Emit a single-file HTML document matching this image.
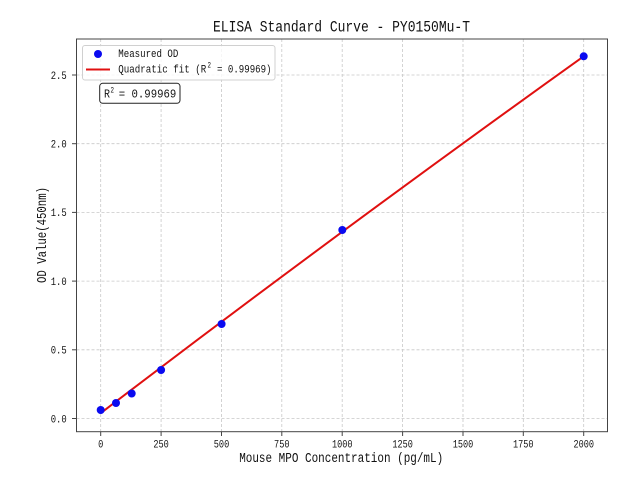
<!DOCTYPE html>
<html><head><meta charset="utf-8"><style>
html,body{margin:0;padding:0;background:#fff;}
svg{display:block;}
text{font-family:"Liberation Mono","DejaVu Sans Mono",monospace;fill:#111;}
</style></head><body>
<svg width="640" height="480" viewBox="0 0 640 480" xmlns="http://www.w3.org/2000/svg">
<rect x="0" y="0" width="640" height="480" fill="#fff"/>
<!-- title -->
<text x="341.5" y="31.7" font-size="15.5" text-anchor="middle" textLength="257" lengthAdjust="spacingAndGlyphs">ELISA Standard Curve - PY0150Mu-T</text>
<!-- grid -->
<g stroke="#c8c8c8" stroke-width="0.8" stroke-dasharray="3,2" fill="none">
<line x1="100.7" y1="39" x2="100.7" y2="431.7"/>
<line x1="161.1" y1="39" x2="161.1" y2="431.7"/>
<line x1="221.5" y1="39" x2="221.5" y2="431.7"/>
<line x1="281.8" y1="39" x2="281.8" y2="431.7"/>
<line x1="342.2" y1="39" x2="342.2" y2="431.7"/>
<line x1="402.6" y1="39" x2="402.6" y2="431.7"/>
<line x1="463.0" y1="39" x2="463.0" y2="431.7"/>
<line x1="523.3" y1="39" x2="523.3" y2="431.7"/>
<line x1="583.7" y1="39" x2="583.7" y2="431.7"/>
<line x1="76.5" y1="418.5" x2="607.5" y2="418.5"/>
<line x1="76.5" y1="349.8" x2="607.5" y2="349.8"/>
<line x1="76.5" y1="281.1" x2="607.5" y2="281.1"/>
<line x1="76.5" y1="212.4" x2="607.5" y2="212.4"/>
<line x1="76.5" y1="143.7" x2="607.5" y2="143.7"/>
<line x1="76.5" y1="75.0" x2="607.5" y2="75.0"/>
</g>
<!-- fit line -->
<path d="M100.7,413.2 Q342.2,229 583.7,56.3" stroke="#e01010" stroke-width="2" fill="none"/>
<!-- points -->
<g fill="#0a0af0">
<circle cx="100.7" cy="410" r="4"/>
<circle cx="116" cy="403" r="4"/>
<circle cx="131.7" cy="393.5" r="4"/>
<circle cx="161.1" cy="370" r="4"/>
<circle cx="221.6" cy="324" r="4"/>
<circle cx="342.3" cy="230" r="4"/>
<circle cx="583.7" cy="56.3" r="4"/>
</g>
<!-- spines -->
<rect x="76.5" y="39" width="531" height="392.7" fill="none" stroke="#444" stroke-width="1"/>
<!-- ticks -->
<g stroke="#444" stroke-width="1">
<line x1="100.7" y1="431.7" x2="100.7" y2="436"/>
<line x1="161.1" y1="431.7" x2="161.1" y2="436"/>
<line x1="221.5" y1="431.7" x2="221.5" y2="436"/>
<line x1="281.8" y1="431.7" x2="281.8" y2="436"/>
<line x1="342.2" y1="431.7" x2="342.2" y2="436"/>
<line x1="402.6" y1="431.7" x2="402.6" y2="436"/>
<line x1="463.0" y1="431.7" x2="463.0" y2="436"/>
<line x1="523.3" y1="431.7" x2="523.3" y2="436"/>
<line x1="583.7" y1="431.7" x2="583.7" y2="436"/>
<line x1="72" y1="418.5" x2="76.5" y2="418.5"/>
<line x1="72" y1="349.8" x2="76.5" y2="349.8"/>
<line x1="72" y1="281.1" x2="76.5" y2="281.1"/>
<line x1="72" y1="212.4" x2="76.5" y2="212.4"/>
<line x1="72" y1="143.7" x2="76.5" y2="143.7"/>
<line x1="72" y1="75.0" x2="76.5" y2="75.0"/>
</g>
<!-- x tick labels -->
<g font-size="11" text-anchor="middle">
<text x="100.7" y="447.5" textLength="5.2" lengthAdjust="spacingAndGlyphs">0</text>
<text x="161.1" y="447.5" textLength="15.5" lengthAdjust="spacingAndGlyphs">250</text>
<text x="221.5" y="447.5" textLength="15.5" lengthAdjust="spacingAndGlyphs">500</text>
<text x="281.8" y="447.5" textLength="15.5" lengthAdjust="spacingAndGlyphs">750</text>
<text x="342.2" y="447.5" textLength="20.5" lengthAdjust="spacingAndGlyphs">1000</text>
<text x="402.6" y="447.5" textLength="20.5" lengthAdjust="spacingAndGlyphs">1250</text>
<text x="463.0" y="447.5" textLength="20.5" lengthAdjust="spacingAndGlyphs">1500</text>
<text x="523.3" y="447.5" textLength="20.5" lengthAdjust="spacingAndGlyphs">1750</text>
<text x="583.7" y="447.5" textLength="20.5" lengthAdjust="spacingAndGlyphs">2000</text>
</g>
<!-- y tick labels -->
<g font-size="11" text-anchor="end">
<text x="66.7" y="422.3" textLength="16" lengthAdjust="spacingAndGlyphs">0.0</text>
<text x="66.7" y="353.6" textLength="16" lengthAdjust="spacingAndGlyphs">0.5</text>
<text x="66.7" y="284.9" textLength="16" lengthAdjust="spacingAndGlyphs">1.0</text>
<text x="66.7" y="216.2" textLength="16" lengthAdjust="spacingAndGlyphs">1.5</text>
<text x="66.7" y="147.5" textLength="16" lengthAdjust="spacingAndGlyphs">2.0</text>
<text x="66.7" y="78.8" textLength="16" lengthAdjust="spacingAndGlyphs">2.5</text>
</g>
<!-- axis labels -->
<text x="341.2" y="462" font-size="13.5" text-anchor="middle" textLength="204" lengthAdjust="spacingAndGlyphs">Mouse MPO Concentration (pg/mL)</text>
<text transform="translate(46,235) rotate(-90)" x="0" y="0" font-size="13.5" text-anchor="middle" textLength="96" lengthAdjust="spacingAndGlyphs">OD Value(450nm)</text>
<!-- legend -->
<rect x="82.5" y="45.5" width="192.5" height="34.5" rx="2.5" ry="2.5" fill="#fff" fill-opacity="0.8" stroke="#d0d0d0" stroke-width="1"/>
<circle cx="98" cy="54" r="4" fill="#0a0af0"/>
<line x1="86" y1="69.5" x2="110" y2="69.5" stroke="#e01010" stroke-width="2"/>
<text x="118.3" y="56.8" font-size="11" textLength="60" lengthAdjust="spacingAndGlyphs">Measured OD</text>
<text x="118.3" y="72.5" font-size="11" textLength="88" lengthAdjust="spacingAndGlyphs">Quadratic fit (R</text>
<text x="207.5" y="67.5" font-size="8" textLength="3.5" lengthAdjust="spacingAndGlyphs">2</text>
<text x="217" y="72.5" font-size="11" textLength="54.5" lengthAdjust="spacingAndGlyphs">= 0.99969)</text>
<!-- R2 box -->
<rect x="99.7" y="83.3" width="80.3" height="20" rx="3" ry="3" fill="#fff" stroke="#222" stroke-width="1"/>
<text x="104" y="97.3" font-size="12" textLength="6" lengthAdjust="spacingAndGlyphs">R</text>
<text x="110.5" y="92.3" font-size="8.5" textLength="3.5" lengthAdjust="spacingAndGlyphs">2</text>
<text x="118.7" y="97.3" font-size="12" textLength="57.6" lengthAdjust="spacingAndGlyphs">= 0.99969</text>
</svg>
</body></html>
